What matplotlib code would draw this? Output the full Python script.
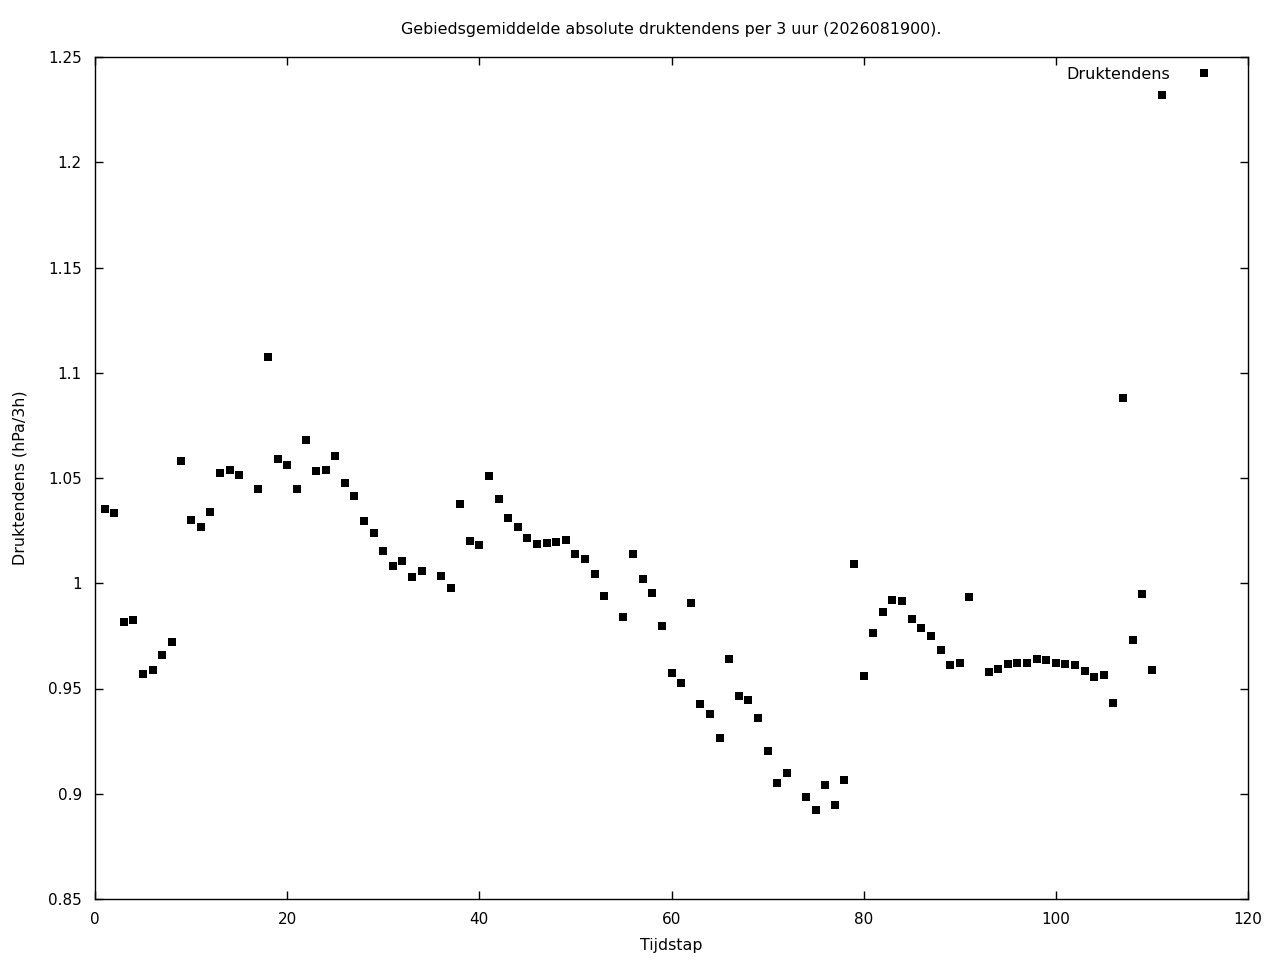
import matplotlib
matplotlib.use("Agg")
import matplotlib.pyplot as plt
from matplotlib.ticker import FixedLocator, FuncFormatter

tijdstap = [1, 2, 3, 4, 5, 6, 7, 8, 9, 10, 11, 12, 13, 14, 15, 17, 18, 19, 20,
            21, 22, 23, 24, 25, 26, 27, 28, 29, 30, 31, 32, 33, 34, 36, 37, 38, 39, 40,
            41, 42, 43, 44, 45, 46, 47, 48, 49, 50, 51, 52, 53, 55, 56, 57, 58, 59, 60,
            61, 62, 63, 64, 65, 66, 67, 68, 69, 70, 71, 72, 74, 75, 76, 77, 78, 79, 80,
            81, 82, 83, 84, 85, 86, 87, 88, 89, 90, 91, 93, 94, 95, 96, 97, 98, 99, 100,
            101, 102, 103, 104, 105, 106, 107, 108, 109, 110, 111]
druktendens = [1.0353, 1.0334, 0.9816, 0.9825, 0.9569, 0.9588, 0.9659, 0.9721, 1.0581, 1.0300,
               1.0267, 1.0339, 1.0524, 1.0538, 1.0514, 1.0448, 1.1075, 1.0590, 1.0562,
               1.0448, 1.0681, 1.0533, 1.0538, 1.0605, 1.0476, 1.0414, 1.0296, 1.0239, 1.0153,
               1.0082, 1.0106, 1.0030, 1.0058, 1.0034, 0.9977, 1.0376, 1.0201, 1.0182,
               1.0510, 1.0400, 1.0310, 1.0267, 1.0215, 1.0186, 1.0191, 1.0196, 1.0205, 1.0139,
               1.0115, 1.0044, 0.9939, 0.9840, 1.0139, 1.0020, 0.9954, 0.9797, 0.9574,
               0.9526, 0.9906, 0.9426, 0.9379, 0.9265, 0.9640, 0.9464, 0.9445, 0.9360, 0.9203,
               0.9051, 0.9099, 0.8985, 0.8923, 0.9042, 0.8947, 0.9065, 1.0091, 0.9559,
               0.9764, 0.9863, 0.9920, 0.9916, 0.9830, 0.9788, 0.9749, 0.9683, 0.9612, 0.9621,
               0.9935, 0.9578, 0.9593, 0.9616, 0.9621, 0.9621, 0.9640, 0.9635, 0.9621,
               0.9616, 0.9612, 0.9583, 0.9555, 0.9564, 0.9431, 1.0880, 0.9730, 0.9949, 0.9588,
               1.2319]

x_ticks = [0, 20, 40, 60, 80, 100, 120]
y_ticks = [0.85, 0.9, 0.95, 1.0, 1.05, 1.1, 1.15, 1.2, 1.25]

plt.rcParams['font.family'] = ['DejaVu Sans']
fig = plt.figure(figsize=(12.8, 9.6), dpi=100)
ax = fig.add_axes([95/1280, 1-899/960, (1248-95)/1280, (899-57)/960])

ax.plot(tijdstap, druktendens, linestyle='none', marker='s', markersize=6,
        color='black', markeredgewidth=0, label='Druktendens')

ax.set_xlim(0, 120)
ax.set_ylim(0.85, 1.25)
ax.xaxis.set_major_locator(FixedLocator(x_ticks))
ax.yaxis.set_major_locator(FixedLocator(y_ticks))
ax.yaxis.set_major_formatter(FuncFormatter(lambda v, p: f"{v:g}"))
ax.tick_params(direction='in', length=6, width=1, top=True, right=True,
               labelsize=11, pad=9.5)
for s in ax.spines.values():
    s.set_linewidth(1)

ax.set_xlabel('Tijdstap', fontsize=11.4, labelpad=8)
ax.set_ylabel('Druktendens (hPa/3h)', fontsize=11.4, labelpad=15)
ax.set_title('Gebiedsgemiddelde absolute druktendens per 3 uur (2026081900).',
             fontsize=11.4, pad=16.4)

leg = ax.legend(loc='upper right', frameon=False, fontsize=11.5, markerfirst=False,
                handletextpad=1.4, borderaxespad=0.3, handlelength=1.5,
                bbox_to_anchor=(0.982, 1.0014))

fig.savefig('out.png', dpi=100)
